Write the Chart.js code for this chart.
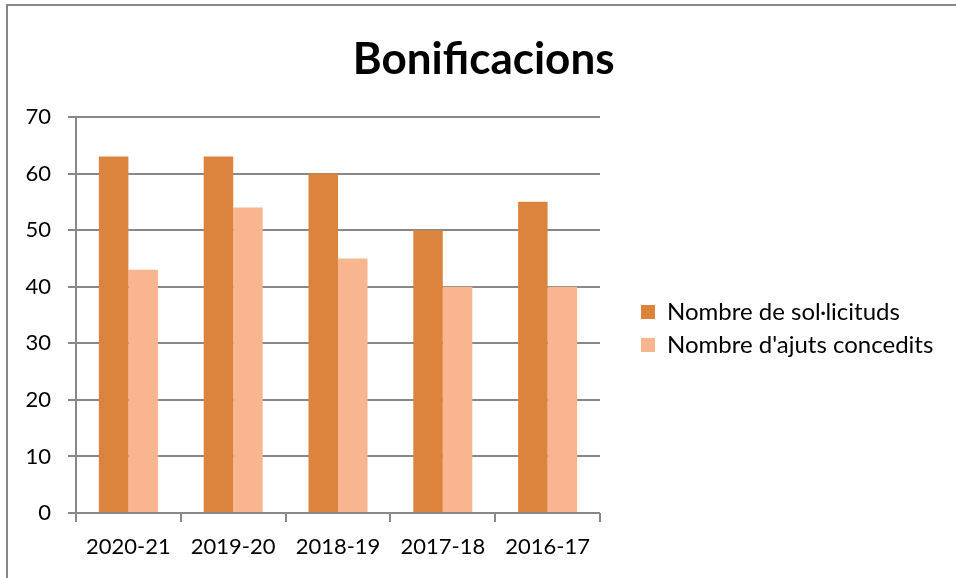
<!DOCTYPE html>
<html>
<head>
<meta charset="utf-8">
<script src="https://cdn.jsdelivr.net/npm/chart.js@4.4.0/dist/chart.umd.min.js"></script>
<style>
    html, body { margin: 0; padding: 0; background: #fff; }
    #caixa { position: relative; width: 956px; height: 578px; overflow: hidden; }
    #caixa canvas { position: absolute; left: 0; top: 0; }
    /* marc del gràfic: només vora esquerra i superior */
    #marc { position: absolute; left: 6px; top: 4px; right: -10px; bottom: -10px;
            border-left: 2px solid #878787; border-top: 2px solid #878787; pointer-events: none; }
</style>
</head>
<body>
<div id="caixa">
    <canvas id="bonificacionsChart" width="956" height="578"></canvas>
    <div id="marc"></div>
</div>
<script>
const cursos = ['2020-21', '2019-20', '2018-19', '2017-18', '2016-17'];
const solicituds = [63, 63, 60, 50, 55];
const ajutsConcedits = [43, 54, 45, 40, 40];
const marquesY = [0, 10, 20, 30, 40, 50, 60, 70];
const nomsSeries = ['Nombre de sol·licituds', "Nombre d'ajuts concedits"];

const gris = '#888888';
const lletra = 'Lato';
const midaEixos = 22;
const midaLlegenda = 24;

// amplada de la llegenda per situar-la a la dreta de l'àrea de dibuix
const mesura = document.createElement('canvas').getContext('2d');
mesura.font = midaLlegenda + 'px ' + lletra;
const amplaText = Math.max(...nomsSeries.map(t => mesura.measureText(t).width));
const amplaLlegenda = 9 + 14 + midaLlegenda / 2 + amplaText + 10;
const margeDreta = Math.max(0, 956 - 632 - amplaLlegenda);
const margeEsquerra = Math.min(24, 18 + margeDreta);

const ctx = document.getElementById('bonificacionsChart').getContext('2d');

window.myChart = new Chart(ctx, {
    type: 'bar',
    data: {
        labels: cursos,
        datasets: [{
            label: nomsSeries[0],
            data: solicituds,
            backgroundColor: '#DC843E',
            borderWidth: 0,
            categoryPercentage: 0.563,
            barPercentage: 1,
        }, {
            label: nomsSeries[1],
            data: ajutsConcedits,
            backgroundColor: '#F8B590',
            borderWidth: 0,
            categoryPercentage: 0.563,
            barPercentage: 1,
        }]
    },
    options: {
        responsive: false,
        animation: false,
        layout: {
            padding: { left: margeEsquerra, right: margeDreta, top: 0, bottom: 0 }
        },
        plugins: {
            title: {
                display: true,
                text: 'Bonificacions',
                color: '#000',
                font: { family: lletra, size: 44, weight: 'bold', lineHeight: 1.2 },
                padding: { top: 33, bottom: 31.2 }
            },
            legend: {
                position: 'right',
                fullSize: false,
                align: 'center',
                maxWidth: 420,
                title: { display: true, text: '', font: { size: 10, lineHeight: 1.2 }, padding: { top: 15, bottom: 0 } },
                labels: {
                    boxWidth: 14,
                    boxHeight: 14,
                    padding: 9,
                    color: '#000',
                    font: { family: lletra, size: midaLlegenda }
                }
            },
            tooltip: { enabled: false }
        },
        scales: {
            x: {
                offset: true,
                grid: {
                    offset: true,
                    drawOnChartArea: false,
                    drawTicks: true,
                    tickLength: 9,
                    color: gris,
                    lineWidth: 2,
                },
                border: { display: false },
                ticks: {
                    color: '#000',
                    padding: 12,
                    maxRotation: 0,
                    font: { family: lletra, size: midaEixos }
                },
                afterFit: s => { s.height = 65; }
            },
            y: {
                min: marquesY[0],
                max: marquesY[marquesY.length - 1],
                grid: {
                    color: gris,
                    lineWidth: 2,
                    tickLength: 8,
                },
                border: { color: gris, width: 2 },
                ticks: {
                    stepSize: 10,
                    color: '#000',
                    padding: 17,
                    font: { family: lletra, size: midaEixos }
                },
                afterFit: s => { s.width = 76 - margeEsquerra; }
            },
            // espai buit entre l'àrea de dibuix i la llegenda
            separacio: {
                type: 'linear',
                position: 'right',
                grid: { display: false },
                border: { display: false },
                ticks: { display: false },
                afterFit: s => { s.width = 32; }
            }
        }
    }
});
</script>
</body>
</html>
